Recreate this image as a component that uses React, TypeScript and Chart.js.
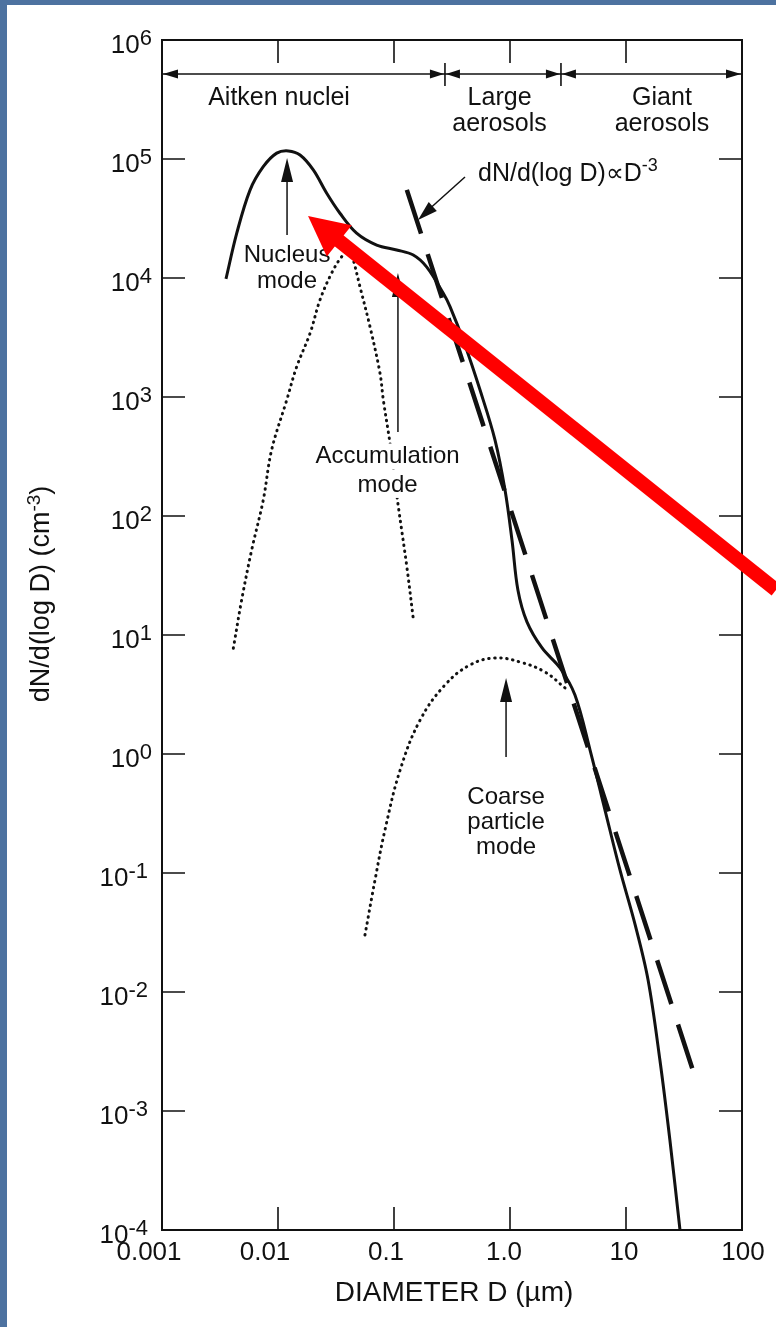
import React, { useEffect, useRef } from "react";
import { Chart, registerables } from "chart.js";

Chart.register(...registerables);

// ---------- data (diameter in µm, number distribution in cm^-3) ----------
const SOLID_D = [0.00356, 0.00441, 0.00574, 0.00746, 0.00975, 0.01228, 0.01549, 0.02015, 0.0263, 0.0342, 0.0476, 0.0709, 0.1054, 0.1466, 0.191, 0.266, 0.304, 0.409, 0.551, 0.743, 0.906, 1.04, 1.17, 1.4, 1.89, 2.7, 3.63, 4.9, 6.59, 8.87, 12.0, 15.5, 19.6, 23.9, 29.2];
const SOLID_N = [9820, 23800, 54800, 86100, 112000, 117000, 108000, 80900, 51500, 35000, 23800, 18900, 17200, 15600, 12400, 7430, 5740, 2740, 1150, 435, 165, 62.8, 23.9, 12.9, 7.78, 5.28, 3.13, 1.08, 0.338, 0.106, 0.0366, 0.0126, 0.00268, 0.00057, 0.0001];

const FINE_D = [0.00412, 0.00486, 0.00593, 0.00746, 0.00881, 0.0119, 0.0145, 0.0189, 0.023, 0.029, 0.0354, 0.0418, 0.0446, 0.0509, 0.0621, 0.0757, 0.0809, 0.0924, 0.109, 0.129, 0.147];
const FINE_N = [7.73, 19.7, 51.8, 136, 359, 944, 1800, 3430, 6530, 11000, 15100, 17200, 14200, 8450, 3900, 1590, 944, 408, 120, 37.5, 13.4];

const COARSE_D = [0.0562, 0.0686, 0.0836, 0.113, 0.168, 0.275, 0.452, 0.743, 1.22, 2.0, 2.98];
const COARSE_N = [0.0301, 0.0873, 0.23, 0.734, 1.93, 3.8, 5.6, 6.41, 5.93, 4.89, 3.59];

const POWER_D = [0.129, 37.5];
const POWER_N = [55000, 0.00224];

const X_TICKS = [0.001, 0.01, 0.1, 1, 10, 100];
const X_TICK_LABELS = ["0.001", "0.01", "0.1", "1.0", "10", "100"];
const Y_EXPONENTS = [6, 5, 4, 3, 2, 1, 0, -1, -2, -3, -4];

const REGION_BOUNDS = [0.275, 2.75];
const REGION_NAMES = [["Aitken nuclei"], ["Large", "aerosols"], ["Giant", "aerosols"]];

const FONT = "'Liberation Sans', Arial, Helvetica, sans-serif";

const pts = (xs: number[], ys: number[]) => xs.map((x, i) => ({ x, y: ys[i] }));

function drawHead(ctx: CanvasRenderingContext2D, tx: number, ty: number, fx: number, fy: number, len: number, half: number) {
  const dx = tx - fx, dy = ty - fy;
  const L = Math.hypot(dx, dy) || 1;
  const ux = dx / L, uy = dy / L;
  const bx = tx - ux * len, by = ty - uy * len;
  ctx.beginPath();
  ctx.moveTo(tx, ty);
  ctx.lineTo(bx - uy * half, by + ux * half);
  ctx.lineTo(bx + uy * half, by - ux * half);
  ctx.closePath();
  ctx.fill();
}

function supText(ctx: CanvasRenderingContext2D, parts: [string, boolean][], x: number, y: number, align: "left" | "center" | "right", base: number, sup: number, raise: number) {
  const widths = parts.map(([t, s]) => {
    ctx.font = `${s ? sup : base}px ${FONT}`;
    return ctx.measureText(t).width;
  });
  const total = widths.reduce((a, b) => a + b, 0);
  let cx = align === "left" ? x : align === "center" ? x - total / 2 : x - total;
  ctx.textAlign = "left";
  ctx.textBaseline = "alphabetic";
  parts.forEach(([t, s], i) => {
    ctx.font = `${s ? sup : base}px ${FONT}`;
    ctx.fillText(t, cx, s ? y - raise : y);
    cx += widths[i];
  });
}

const decoPlugin = {
  id: "deco",
  afterDatasetsDraw(chart: any) {
    const ctx: CanvasRenderingContext2D = chart.ctx;
    const xs = chart.scales.x, ys = chart.scales.y;
    const a = chart.chartArea;
    const px = (d: number) => xs.getPixelForValue(d);
    const py = (n: number) => ys.getPixelForValue(n);
    const P = (lx: number, ly: number) => [px(Math.pow(10, lx)), py(Math.pow(10, ly))];
    ctx.save();
    ctx.fillStyle = "#111";
    ctx.strokeStyle = "#111";

    // frame
    ctx.lineWidth = 2;
    ctx.strokeRect(a.left, a.top, a.right - a.left, a.bottom - a.top);

    // inward ticks
    const TL = 23;
    ctx.lineWidth = 1.6;
    X_TICKS.slice(1, -1).forEach((v) => {
      const x = px(v);
      ctx.beginPath();
      ctx.moveTo(x, a.bottom); ctx.lineTo(x, a.bottom - TL);
      ctx.moveTo(x, a.top); ctx.lineTo(x, a.top + TL);
      ctx.stroke();
    });
    Y_EXPONENTS.slice(1, -1).forEach((e) => {
      const y = py(Math.pow(10, e));
      ctx.beginPath();
      ctx.moveTo(a.left, y); ctx.lineTo(a.left + TL, y);
      ctx.moveTo(a.right, y); ctx.lineTo(a.right - TL, y);
      ctx.stroke();
    });

    // y tick labels
    Y_EXPONENTS.forEach((e) => {
      const y = py(Math.pow(10, e));
      const right = e < 0 ? a.left - 14 : a.left - 10;
      supText(ctx, [["10", false], [e < 0 ? "-" + Math.abs(e) : String(e), true]], right, y + 13, "right", 26, 22, 8);
    });
    // x tick labels
    ctx.font = `26px ${FONT}`;
    ctx.textAlign = "center";
    ctx.textBaseline = "middle";
    const xShift = [-13, -13, -8, -6, -2, 1];
    X_TICKS.forEach((v, i) => {
      ctx.fillText(X_TICK_LABELS[i], px(v) + xShift[i], a.bottom + 23);
    });

    // axis titles
    ctx.font = `28px ${FONT}`;
    ctx.fillText("DIAMETER D (\u00b5m)", (a.left + a.right) / 2 + 2, a.bottom + 63);
    ctx.save();
    ctx.translate(40, py(Math.pow(10, 1.345)));
    ctx.rotate(-Math.PI / 2);
    supText(ctx, [["dN/d(log D) (cm", false], ["-3", true], [")", false]], 0, 9, "center", 27, 19, 9);
    ctx.restore();

    // region band
    const bandY = py(Math.pow(10, 5.714));
    ctx.lineWidth = 1.6;
    ctx.beginPath();
    ctx.moveTo(a.left, bandY); ctx.lineTo(a.right, bandY);
    ctx.stroke();
    drawHead(ctx, a.left + 1, bandY, a.left + 30, bandY, 15, 4.5);
    drawHead(ctx, a.right - 1, bandY, a.right - 30, bandY, 15, 4.5);
    REGION_BOUNDS.forEach((b) => {
      const x = px(b);
      ctx.beginPath();
      ctx.moveTo(x, bandY - 11); ctx.lineTo(x, bandY + 12);
      ctx.stroke();
      drawHead(ctx, x - 1, bandY, x - 30, bandY, 14, 4.5);
      drawHead(ctx, x + 1, bandY, x + 30, bandY, 14, 4.5);
    });
    ctx.font = `25px ${FONT}`;
    ctx.textAlign = "center";
    ctx.textBaseline = "middle";
    const regionX = [px(Math.pow(10, -1.991)), px(Math.pow(10, -0.09)), px(Math.pow(10, 1.31))];
    REGION_NAMES.forEach((lines, i) => {
      lines.forEach((t, j) => ctx.fillText(t, regionX[i], py(Math.pow(10, 5.51 - j * 0.218))));
    });

    // mode labels with arrows
    const arrow = (lx: number, ly0: number, ly1: number) => {
      const [x0, y0] = P(lx, ly0);
      const [x1, y1] = P(lx, ly1);
      ctx.lineWidth = 1.5;
      ctx.beginPath();
      ctx.moveTo(x0, y0); ctx.lineTo(x1, y1 + 12);
      ctx.stroke();
      drawHead(ctx, x1, y1, x0, y0, 24, 6);
    };
    arrow(-1.922, 4.361, 5.008);
    arrow(-0.966, 2.706, 4.042);
    arrow(-0.034, -0.025, 0.639);

    const label = (lx: number, lys: number[], lines: string[], bg: boolean) => {
      ctx.font = `24px ${FONT}`;
      ctx.textAlign = "center";
      ctx.textBaseline = "middle";
      lines.forEach((t, j) => {
        const [x, y] = P(lx, lys[j]);
        if (bg) {
          const w = ctx.measureText(t).width;
          ctx.fillStyle = "#fff";
          ctx.fillRect(x - w / 2 - 3, y - 13, w + 6, 26);
          ctx.fillStyle = "#111";
        }
        ctx.fillText(t, x, y);
      });
    };
    label(-1.922, [4.193, 3.975], ["Nucleus", "mode"], false);
    label(-1.055, [2.50, 2.261], ["Accumulation", "mode"], true);
    label(-0.034, [-0.361, -0.571, -0.782], ["Coarse", "particle", "mode"], false);

    // power-law label and pointer
    const [lx0, ly0] = P(-0.276, 4.891);
    supText(ctx, [["dN/d(log D)\u221dD", false], ["-3", true]], lx0, ly0 + 9, "left", 25, 18, 10);
    const [ax0, ay0] = P(-0.388, 4.849);
    const [ax1, ay1] = P(-0.793, 4.487);
    ctx.lineWidth = 1.5;
    ctx.beginPath();
    ctx.moveTo(ax0, ay0); ctx.lineTo(ax1 + 8, ay1 - 8);
    ctx.stroke();
    drawHead(ctx, ax1, ay1, ax0, ay0, 20, 6);

    // red overlay arrow
    const [rt0, rt1] = P(-1.741, 4.521);
    const [rs0, rs1] = P(2.293, 1.378);
    const dx = rt0 - rs0, dy = rt1 - rs1;
    const L = Math.hypot(dx, dy);
    const ux = dx / L, uy = dy / L;
    ctx.strokeStyle = "#ff0000";
    ctx.fillStyle = "#ff0000";
    ctx.lineWidth = 14;
    ctx.lineCap = "butt";
    ctx.beginPath();
    ctx.moveTo(rs0, rs1);
    ctx.lineTo(rt0 - ux * 34, rt1 - uy * 34);
    ctx.stroke();
    drawHead(ctx, rt0, rt1, rs0, rs1, 40, 20);

    ctx.restore();
  },
};

export default function App() {
  const ref = useRef<HTMLCanvasElement>(null);
  useEffect(() => {
    const chart = new Chart(ref.current as HTMLCanvasElement, {
      type: "line",
      data: {
        datasets: [
          {
            label: "fine",
            data: pts(FINE_D, FINE_N),
            borderColor: "#111",
            borderWidth: 3,
            borderDash: [0.5, 5.5],
            borderCapStyle: "round",
            pointRadius: 0,
            tension: 0.35,
            fill: false,
          },
          {
            label: "coarse",
            data: pts(COARSE_D, COARSE_N),
            borderColor: "#111",
            borderWidth: 3,
            borderDash: [0.5, 5.5],
            borderCapStyle: "round",
            pointRadius: 0,
            tension: 0.4,
            fill: false,
          },
          {
            label: "power",
            data: pts(POWER_D, POWER_N),
            borderColor: "#111",
            borderWidth: 4.5,
            borderDash: [46, 21.5],
            pointRadius: 0,
            tension: 0,
            fill: false,
          },
          {
            label: "total",
            data: pts(SOLID_D, SOLID_N),
            borderColor: "#111",
            borderWidth: 3,
            pointRadius: 0,
            tension: 0.35,
            fill: false,
          },
        ],
      } as any,
      options: {
        animation: false,
        responsive: false,
        devicePixelRatio: 1,
        events: [],
        layout: { padding: { left: 162, right: 34, top: 40, bottom: 97 } },
        plugins: { legend: { display: false }, tooltip: { enabled: false }, title: { display: false } },
        scales: {
          x: { type: "logarithmic", min: 0.001, max: 100, display: false },
          y: { type: "logarithmic", min: 0.0001, max: 1000000, display: false },
        },
      } as any,
      plugins: [decoPlugin],
    });
    return () => chart.destroy();
  }, []);
  return (
    <div style={{ position: "absolute", left: 0, top: 0, width: 776, height: 1327, background: "#4d72a0", overflow: "hidden" }}>
      <div style={{ position: "absolute", left: 7, top: 5, width: 769, height: 1322, background: "#ffffff" }} />
      <canvas ref={ref} width={776} height={1327} style={{ position: "absolute", left: 0, top: 0, width: 776, height: 1327 }} />
    </div>
  );
}
